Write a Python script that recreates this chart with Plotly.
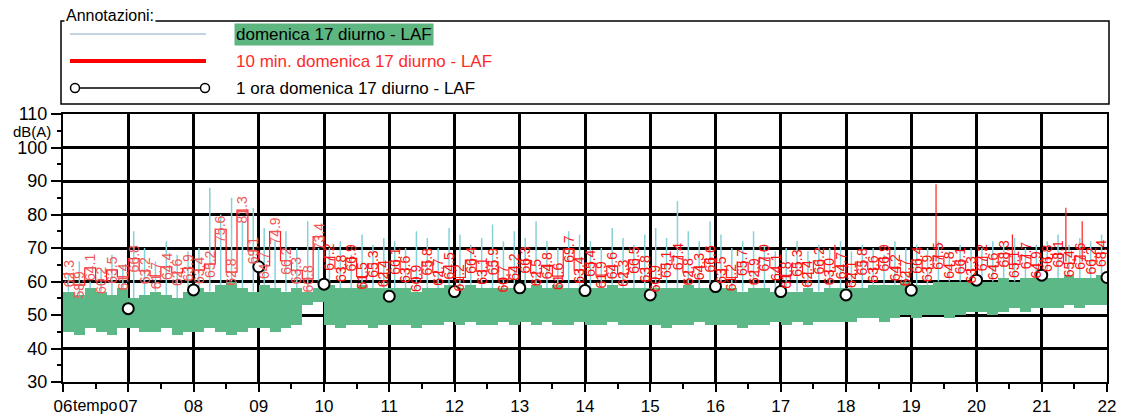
import plotly.graph_objects as go

# ---------------- data ----------------
# 10-minute intervals from 06:00 to 22:00 (96 intervals)
green_low = [45, 44, 46, 45, 44, 46,
             46, 45, 45, 46, 44, 45,
             45, 46, 45, 44, 45, 46,
             46, 45, 46, 47, 53, 54,
             47, 46, 47, 47, 46, 47,
             47, 47, 46, 47, 47, 48,
             47, 48, 47, 47, 48, 47,
             48, 47, 48, 47, 47, 48,
             47, 47, 48, 47, 47, 47,
             47, 46, 47, 47, 48, 47,
             47, 47, 46, 47, 47, 48,
             47, 48, 47, 48, 48, 48,
             48, 49, 49, 48, 49, 50,
             49, 50, 50, 49, 50, 51,
             51, 50, 51, 52, 51, 52,
             52, 52, 53, 52, 53, 53]
green_high = [57, 56, 58, 57, 56, 58,
              55, 56, 57, 56, 55, 57,
              58, 57, 59, 60, 58, 57,
              59, 58, 57, 58, 57, 58,
              59, 58, 58, 59, 58, 58,
              58, 58, 57, 58, 58, 59,
              58, 59, 58, 58, 58, 58,
              58, 59, 58, 59, 58, 58,
              58, 58, 59, 58, 58, 58,
              58, 58, 58, 59, 58, 58,
              58, 58, 57, 58, 58, 57,
              57, 57, 58, 57, 58, 58,
              58, 58, 59, 59, 59, 60,
              59, 59, 60, 60, 60, 60,
              60, 60, 61, 60, 61, 61,
              61, 61, 62, 61, 61, 62]
peaks = [62, 66, 60, 64, 68, 65,
         75, 70, 66, 72, 68, 69,
         70, 88, 80, 85, 78, 82,
         76, 72, 75, 70, 78, 70,
         70, 72, 68, 74, 71, 73,
         72, 70, 75, 73, 70, 76,
         74, 71, 73, 77, 72, 75,
         73, 78, 72, 70, 75, 74,
         72, 70, 76, 73, 71, 74,
         76, 73, 84, 75, 72, 78,
         74, 70, 72, 75, 71, 69,
         70, 72, 69, 71, 70, 72,
         69, 71, 70, 68, 72, 70,
         71, 70, 72, 69, 71, 70,
         70, 72, 71, 73, 70, 71,
         72, 74, 71, 73, 72, 74]
leq_10min = [62.3, 58.9, 64.1, 60.2, 63.5, 61.4,
             66.8, 63.2, 61.7, 64.4, 62.6, 63.9,
             63.4, 65.2, 75.6, 62.8, 81.3, 69.1,
             64.7, 74.9, 66.2, 63.3, 60.8, 73.4,
             67.2, 63.8, 66.9, 61.5, 65.3, 62.4,
             66.1, 63.6, 60.9, 65.8, 62.7, 64.5,
             61.2, 66.4, 63.1, 65.9, 60.7, 64.2,
             66.3, 62.5, 64.8, 61.6, 69.7, 63.4,
             65.4, 61.9, 64.6, 62.3, 66.5, 63.8,
             60.9, 65.1, 67.4, 62.8, 64.3, 66.6,
             63.5, 61.2, 65.7, 62.9, 67.0, 64.1,
             61.8, 65.3, 62.4, 66.2, 63.0, 64.7,
             62.1, 65.8, 63.6, 66.9, 64.2, 62.7,
             66.4, 63.9, 67.5, 64.8, 66.1, 63.3,
             67.2, 64.6, 68.3, 65.1, 67.7, 64.9,
             66.8, 68.1, 65.4, 67.6, 66.2, 68.4]
red_spike_times = [17.83, 18.67, 19.38, 20.55, 21.37, 21.62]
red_spike_peaks = [71, 70, 89, 74, 82, 78]
red_spike_base = [64, 64, 66, 65, 66, 66]

hour_x = [7, 8, 9, 10, 11, 12, 13, 14, 15, 16, 17, 18, 19, 20, 21, 22]
hour_leq = [51.9, 57.5, 64.4, 59.2, 55.6, 57.0, 58.1, 57.3, 56.0, 58.5,
            57.0, 56.0, 57.4, 60.4, 61.9, 61.2]

x_tick_vals = list(range(6, 23))
x_tick_text = ["06", "07", "08", "09", "10", "11", "12", "13", "14", "15",
               "16", "17", "18", "19", "20", "21", "22"]
y_tick_vals = [30, 40, 50, 60, 70, 80, 90, 100, 110]

legend_labels = ["domenica 17 diurno - LAF",
                 "10 min. domenica 17 diurno - LAF",
                 "1 ora domenica 17 diurno - LAF"]

# ---------------- figure ----------------
W, H = 1121, 418
ML, MR, MT, MB = 63, 14, 114, 36
PW, PH = W - ML - MR, H - MT - MB
FONT = "Liberation Sans, Arial, sans-serif"

def px(X):
    return (X - ML) / PW

def py(Y):
    return (H - MB - Y) / PH

n = len(green_low)
t_mid = [6 + i / 6 + 1 / 12 for i in range(n)]

fig = go.Figure()

# green band (raw LAF range per 10 min)
fig.add_trace(go.Bar(
    x=t_mid, y=[h - l for h, l in zip(green_high, green_low)], base=green_low,
    width=1 / 6, marker=dict(color="#5cb887", line=dict(width=0)),
    hoverinfo="skip", showlegend=False))

# peaks (cyan spikes)
sx, sy = [], []
for t, h, p in zip(t_mid, green_high, peaks):
    sx += [t, t, None]
    sy += [h, p, None]
fig.add_trace(go.Scatter(x=sx, y=sy, mode="lines",
                         line=dict(color="#86d2d8", width=1.5),
                         hoverinfo="skip", showlegend=False))

# red spikes
rx, ry = [], []
for t, b, p in zip(red_spike_times, red_spike_base, red_spike_peaks):
    rx += [t, t, None]
    ry += [b, p, None]
fig.add_trace(go.Scatter(x=rx, y=ry, mode="lines",
                         line=dict(color="#ff2020", width=1.2),
                         hoverinfo="skip", showlegend=False))

# 10-min Leq step line
t_edges = [6 + i / 6 for i in range(n)] + [22]
fig.add_trace(go.Scatter(x=t_edges, y=leq_10min + [leq_10min[-1]], mode="lines",
                         line=dict(color="#ff2020", width=1.2, shape="hv"),
                         hoverinfo="skip", showlegend=False))

# 1 hour Leq markers
fig.add_trace(go.Scatter(x=hour_x, y=hour_leq, mode="markers",
                         marker=dict(size=11, color="white",
                                     line=dict(color="black", width=2)),
                         hoverinfo="skip", showlegend=False))

annotations = []
# red value labels
for t, v in zip(t_mid, leq_10min):
    annotations.append(dict(
        x=t, y=v, xref="x", yref="y", text=f"{v:.1f}", showarrow=False,
        textangle=-90, font=dict(family=FONT, size=14,
                                 color="#f05858" if t < 10 else "#ff1010")))

# axis titles
annotations.append(dict(x=0, y=104.7, xref="paper", yref="y", text="dB(A)",
                        showarrow=False, xanchor="right", xshift=-10,
                        font=dict(family=FONT, size=15, color="black")))
annotations.append(dict(x=6.5, y=0, xref="x", yref="paper", text="tempo",
                        showarrow=False, yanchor="middle", yshift=-23,
                        font=dict(family=FONT, size=16, color="black")))

# legend (custom)
shapes = []
shapes.append(dict(type="rect", xref="paper", yref="paper",
                   x0=px(61), x1=px(1109), y0=py(104), y1=py(21),
                   line=dict(color="black", width=1.5), fillcolor="white",
                   layer="below"))
annotations.append(dict(x=px(64), y=py(15), xref="paper", yref="paper",
                        text="Annotazioni:", showarrow=False, xanchor="left",
                        yanchor="middle", bgcolor="white",
                        font=dict(family=FONT, size=16, color="black")))
leg_y = [34, 61, 88]
shapes.append(dict(type="line", xref="paper", yref="paper",
                   x0=px(70), x1=px(206), y0=py(leg_y[0]), y1=py(leg_y[0]),
                   line=dict(color="#c5d3e0", width=2)))
shapes.append(dict(type="line", xref="paper", yref="paper",
                   x0=px(70), x1=px(206), y0=py(leg_y[1]), y1=py(leg_y[1]),
                   line=dict(color="#ff0000", width=4)))
shapes.append(dict(type="line", xref="paper", yref="paper",
                   x0=px(75), x1=px(205), y0=py(leg_y[2]), y1=py(leg_y[2]),
                   line=dict(color="black", width=1.5)))
for cx in (75, 205):
    shapes.append(dict(type="circle", xref="paper", yref="paper",
                       x0=px(cx - 4.5), x1=px(cx + 4.5),
                       y0=py(leg_y[2] + 4.5), y1=py(leg_y[2] - 4.5),
                       line=dict(color="black", width=1.5), fillcolor="white"))
leg_colors = ["black", "#ff2a2a", "black"]
for i, (lab, yy) in enumerate(zip(legend_labels, leg_y)):
    annotations.append(dict(
        x=px(234), y=py(yy), xref="paper", yref="paper", text=lab,
        showarrow=False, xanchor="left", yanchor="middle",
        bgcolor="#5db57f" if i == 0 else "rgba(0,0,0,0)", borderpad=1,
        font=dict(family=FONT, size=17, color=leg_colors[i])))

axis_common = dict(showline=True, linecolor="black", linewidth=2, mirror=True,
                   showgrid=True, gridcolor="black", gridwidth=2.5,
                   zeroline=False, ticks="outside", tickcolor="black",
                   tickwidth=1.5, automargin=False)

fig.update_layout(
    width=W, height=H, margin=dict(l=ML, r=MR, t=MT, b=MB),
    paper_bgcolor="white", plot_bgcolor="white",
    bargap=0, showlegend=False,
    xaxis=dict(range=[6, 22], tickvals=x_tick_vals, ticktext=x_tick_text,
               ticklen=8,
               tickfont=dict(family=FONT, size=17, color="black"),
               minor=dict(dtick=0.5, tick0=6, ticks="outside",
                          ticklen=5, showgrid=False, tickcolor="black"),
               **axis_common),
    yaxis=dict(range=[30, 110], tickvals=y_tick_vals, ticklen=10,
               tickfont=dict(family=FONT, size=18, color="black"),
               minor=dict(dtick=5, tick0=30, ticks="outside", ticklen=4,
                          showgrid=False, tickcolor="black"),
               **axis_common),
    annotations=annotations, shapes=shapes,
)

fig.write_html("out.html")
